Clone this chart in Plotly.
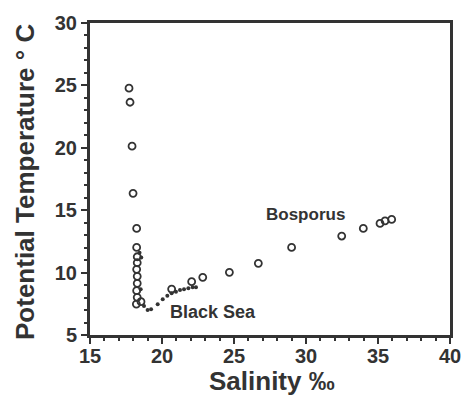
import plotly.graph_objects as go

# Bosporus-to-Black-Sea section: open circles
salinity_open = [17.71, 17.78, 17.92, 17.99, 18.24, 18.24, 18.28, 18.28, 18.24,
                 18.28, 18.28, 18.24, 18.28, 18.22, 18.54, 20.67, 22.06, 22.83,
                 24.68, 26.69, 29.00, 32.48, 33.98, 35.14, 35.49, 35.95]
temp_open = [24.78, 23.65, 20.13, 16.35, 13.54, 12.02, 11.27, 10.79, 10.26,
             9.70, 9.14, 8.55, 8.02, 7.48, 7.67, 8.68, 9.27, 9.62,
             10.02, 10.74, 12.02, 12.93, 13.54, 13.94, 14.15, 14.26]

# Interior Black Sea profile: small filled dots
salinity_dots = [18.44, 18.56, 18.52, 18.75, 19.00, 19.24, 19.70, 20.05, 20.37,
                 20.67, 20.97, 21.25, 21.53, 21.83, 22.13, 22.36]
temp_dots = [11.60, 11.20, 8.66, 7.32, 7.00, 7.06, 7.46, 7.86, 8.15,
             8.34, 8.47, 8.60, 8.66, 8.74, 8.82, 8.82]

x_ticks = [15, 20, 25, 30, 35, 40]
y_ticks = [5, 10, 15, 20, 25, 30]

INK = "#333333"
FAMILY = "Liberation Sans, Arial, sans-serif"

fig = go.Figure()
fig.add_trace(go.Scatter(
    x=salinity_open, y=temp_open, mode="markers",
    marker=dict(symbol="circle-open", size=7, color=INK, line=dict(width=1.8, color=INK)),
    showlegend=False, hoverinfo="skip"))
fig.add_trace(go.Scatter(
    x=salinity_dots, y=temp_dots, mode="markers",
    marker=dict(symbol="circle", size=4, color=INK),
    showlegend=False, hoverinfo="skip"))

# Region labels
fig.add_annotation(x=29.99, y=14.65, text="Bosporus", showarrow=False,
                   font=dict(family=FAMILY, size=17, color=INK, weight="bold"))
fig.add_annotation(x=23.54, y=6.84, text="Black Sea", showarrow=False,
                   font=dict(family=FAMILY, size=18, color=INK, weight="bold"))

# Axis titles
fig.add_annotation(xref="paper", yref="paper", x=0.5, y=0, xshift=2, yshift=-46,
                   xanchor="center", yanchor="middle", showarrow=False,
                   text="Salinity ‰",
                   font=dict(family=FAMILY, size=26, color=INK, weight="bold"))
fig.add_annotation(xref="paper", yref="paper", x=0, y=0.5, xshift=-65, yshift=-3,
                   xanchor="center", yanchor="middle", showarrow=False,
                   textangle=-90, text="Potential Temperature ° C",
                   font=dict(family=FAMILY, size=26, color=INK, weight="bold"))

axis_common = dict(
    showgrid=False, zeroline=False, showline=True, linewidth=3, linecolor=INK,
    mirror=True, ticks="outside", ticklen=6, tickwidth=2, tickcolor=INK,
    automargin=False, ticklabeloverflow="allow",
    tickfont=dict(family=FAMILY, size=20, color=INK, weight="bold"),
)

fig.update_xaxes(
    range=[15, 40], tickvals=x_ticks, ticktext=[str(v) for v in x_ticks],
    minor=dict(dtick=1, ticks="outside", ticklen=3, tickwidth=2, tickcolor=INK),
    ticklabelstandoff=-5,
    **axis_common)
fig.update_yaxes(
    range=[5, 30], tickvals=y_ticks, ticktext=[str(v) for v in y_ticks],
    minor=dict(dtick=1, ticks="outside", ticklen=3, tickwidth=2, tickcolor=INK),
    **axis_common)

fig.update_layout(
    template="none",
    width=461, height=397,
    margin=dict(l=90, r=11, t=23, b=62, autoexpand=False),
    paper_bgcolor="white", plot_bgcolor="white",
)

fig.write_html("out.html")
